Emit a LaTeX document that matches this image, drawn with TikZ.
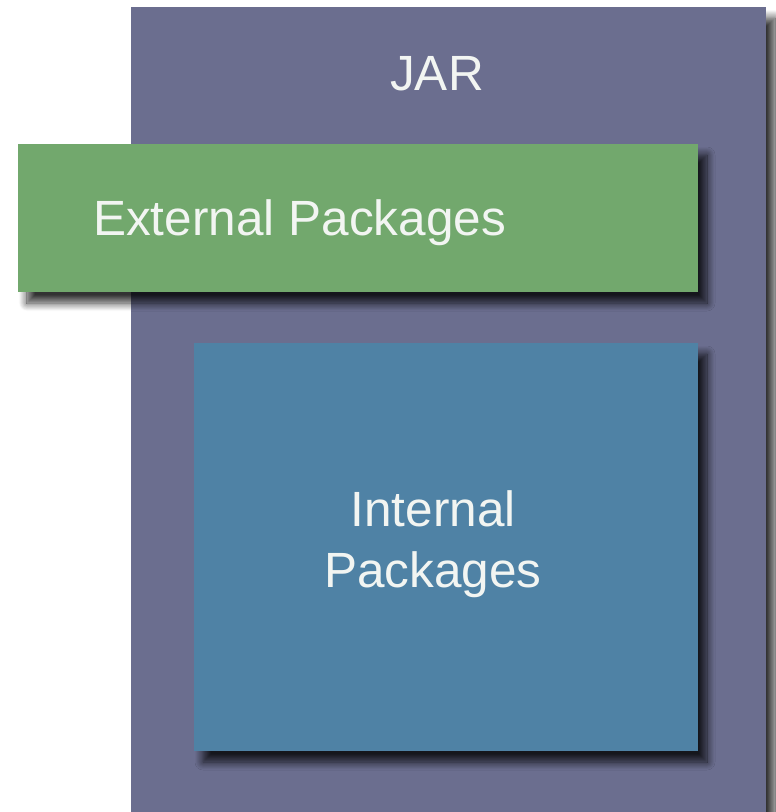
\documentclass[tikz,border=0pt]{standalone}
\usepackage{fontspec}
\setmainfont{Liberation Sans}
\usetikzlibrary{shadows.blur}
\definecolor{jarpurple}{HTML}{6B6E8F}
\definecolor{extgreen}{HTML}{72A86D}
\definecolor{intblue}{HTML}{4F82A5}
\definecolor{labelwhite}{HTML}{F2F5F2}
\tikzset{
  box/.style={draw=none, blur shadow={shadow xshift=9pt, shadow yshift=-11pt, shadow blur radius=8pt, shadow opacity=80, shadow blur steps=12}},
  lbl/.style={text=labelwhite, font=\fontsize{49.5}{61}\selectfont, align=center, inner sep=0pt}
}
\begin{document}
\begin{tikzpicture}[x=1pt, y=-1pt]
  \useasboundingbox (0,0) rectangle (776,812);
  % outer JAR container
  \path[box, fill=jarpurple] (131,7) rectangle (766,830);
  \node[lbl, anchor=base] (jar) at (437,90) {JAR};
  % external packages band
  \path[box, fill=extgreen] (18,144) rectangle (698,292);
  \node[lbl, anchor=base west] (ext) at (93,235) {External Packages};
  % internal packages block
  \path[box, fill=intblue] (194,343) rectangle (698,751);
  \node[lbl] (int) at (433,544.5) {Internal\\Packages};
\end{tikzpicture}
\end{document}
